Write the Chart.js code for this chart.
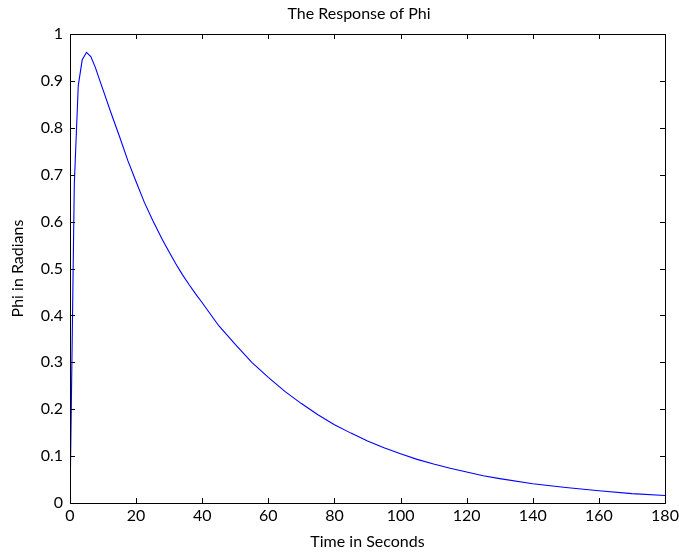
<!DOCTYPE html>
<html>
<head>
<meta charset="utf-8">
<title>The Response of Phi</title>
<script src="https://cdn.jsdelivr.net/npm/chart.js@4"></script>
<style>
  html, body { margin: 0; padding: 0; background: #fff; }
  #wrap { width: 679px; height: 552px; }
</style>
</head>
<body>
<div id="wrap"><canvas id="phiChart" width="679" height="552"></canvas></div>
<script>
// values
const timeSec = [0, 1.3, 2.5, 3.7, 5.0, 6.3, 7.6, 10, 12.5, 15, 17.5, 20, 22.5, 25, 28, 30, 32, 34, 36, 38, 40,
  45, 50, 55, 60, 65, 70, 75, 80, 85, 90, 95, 100, 105, 110, 115, 120, 125, 130, 140, 150, 160, 170, 180];
const phiRad = [0, 0.68, 0.89, 0.945, 0.961, 0.952, 0.930, 0.881, 0.83, 0.781, 0.73, 0.685, 0.641, 0.603,
  0.561, 0.535, 0.51, 0.487, 0.466, 0.446, 0.427, 0.378, 0.338, 0.300, 0.268, 0.238, 0.212, 0.188, 0.167,
  0.149, 0.132, 0.118, 0.105, 0.093, 0.083, 0.074, 0.066, 0.058, 0.052, 0.041, 0.033, 0.026, 0.020, 0.016];
const xTicks = [0, 20, 40, 60, 80, 100, 120, 140, 160, 180];
const yTicks = [0, 0.1, 0.2, 0.3, 0.4, 0.5, 0.6, 0.7, 0.8, 0.9, 1];

const fontFamily = "Lato, 'Liberation Sans', sans-serif";

// box around the axes with inward ticks on all four sides, plus the title
const framePlugin = {
  id: "frame",
  afterDraw(chart) {
    const ctx = chart.ctx;
    const a = chart.chartArea;
    const xs = chart.scales.x, ys = chart.scales.y;
    const len = 5;
    ctx.save();
    ctx.strokeStyle = "#000";
    ctx.lineWidth = 1;
    ctx.beginPath();
    xTicks.forEach((v) => {
      const px = Math.round(xs.getPixelForValue(v)) + 0.5;
      ctx.moveTo(px, a.bottom); ctx.lineTo(px, a.bottom - len);
      ctx.moveTo(px, a.top); ctx.lineTo(px, a.top + len);
    });
    yTicks.forEach((v) => {
      const py = Math.round(ys.getPixelForValue(v)) + 0.5;
      ctx.moveTo(a.left, py); ctx.lineTo(a.left + len, py);
      ctx.moveTo(a.right, py); ctx.lineTo(a.right - len, py);
    });
    ctx.stroke();
    ctx.strokeRect(Math.round(a.left) + 0.5, Math.round(a.top) + 0.5,
      Math.round(a.right - a.left), Math.round(a.bottom - a.top));

    ctx.fillStyle = "#000";
    ctx.font = "16px " + fontFamily;
    ctx.textAlign = "center";
    ctx.textBaseline = "alphabetic";
    ctx.fillText("The Response of Phi", 359, 19);
    ctx.restore();
  },
};

const ctx = document.getElementById("phiChart").getContext("2d");
new Chart(ctx, {
  type: "line",
  data: {
    datasets: [
      {
        label: "Phi",
        data: timeSec.map((t, i) => ({ x: t, y: phiRad[i] })),
        borderColor: "#0000ff",
        borderWidth: 1.1,
        pointRadius: 0,
        tension: 0,
        fill: false,
      },
    ],
  },
  options: {
    responsive: false,
    animation: false,
    layout: { padding: { top: 34, right: 14, left: 0, bottom: 0 } },
    plugins: {
      legend: { display: false },
      tooltip: { enabled: false },
    },
    scales: {
      x: {
        type: "linear",
        min: 0,
        max: 180,
        afterBuildTicks: (s) => { s.ticks = xTicks.map((v) => ({ value: v })); },
        afterFit: (s) => {
          s.height = 49;
          s.paddingLeft = 0;
          s.paddingRight = 0;
        },
        grid: { display: false, drawTicks: false },
        border: { display: false },
        ticks: {
          color: "#000",
          padding: 3,
          maxRotation: 0,
          font: { family: fontFamily, size: 16 },
        },
        title: {
          display: true,
          text: "Time in Seconds",
          color: "#000",
          font: { family: fontFamily, size: 16 },
          padding: { top: 0, bottom: 1 },
        },
      },
      y: {
        type: "linear",
        min: 0,
        max: 1,
        afterBuildTicks: (s) => { s.ticks = yTicks.map((v) => ({ value: v })); },
        afterFit: (s) => {
          s.width = 70;
          s.paddingTop = 0;
          s.paddingBottom = 0;
        },
        grid: { display: false, drawTicks: false },
        border: { display: false },
        ticks: {
          color: "#000",
          padding: 7,
          font: { family: fontFamily, size: 16 },
          callback: (v) => String(Number(v.toFixed(1))),
        },
        title: {
          display: true,
          text: "Phi in Radians",
          color: "#000",
          font: { family: fontFamily, size: 16 },
          padding: { top: 8, bottom: 0 },
        },
      },
    },
  },
  plugins: [framePlugin],
});
</script>
</body>
</html>
